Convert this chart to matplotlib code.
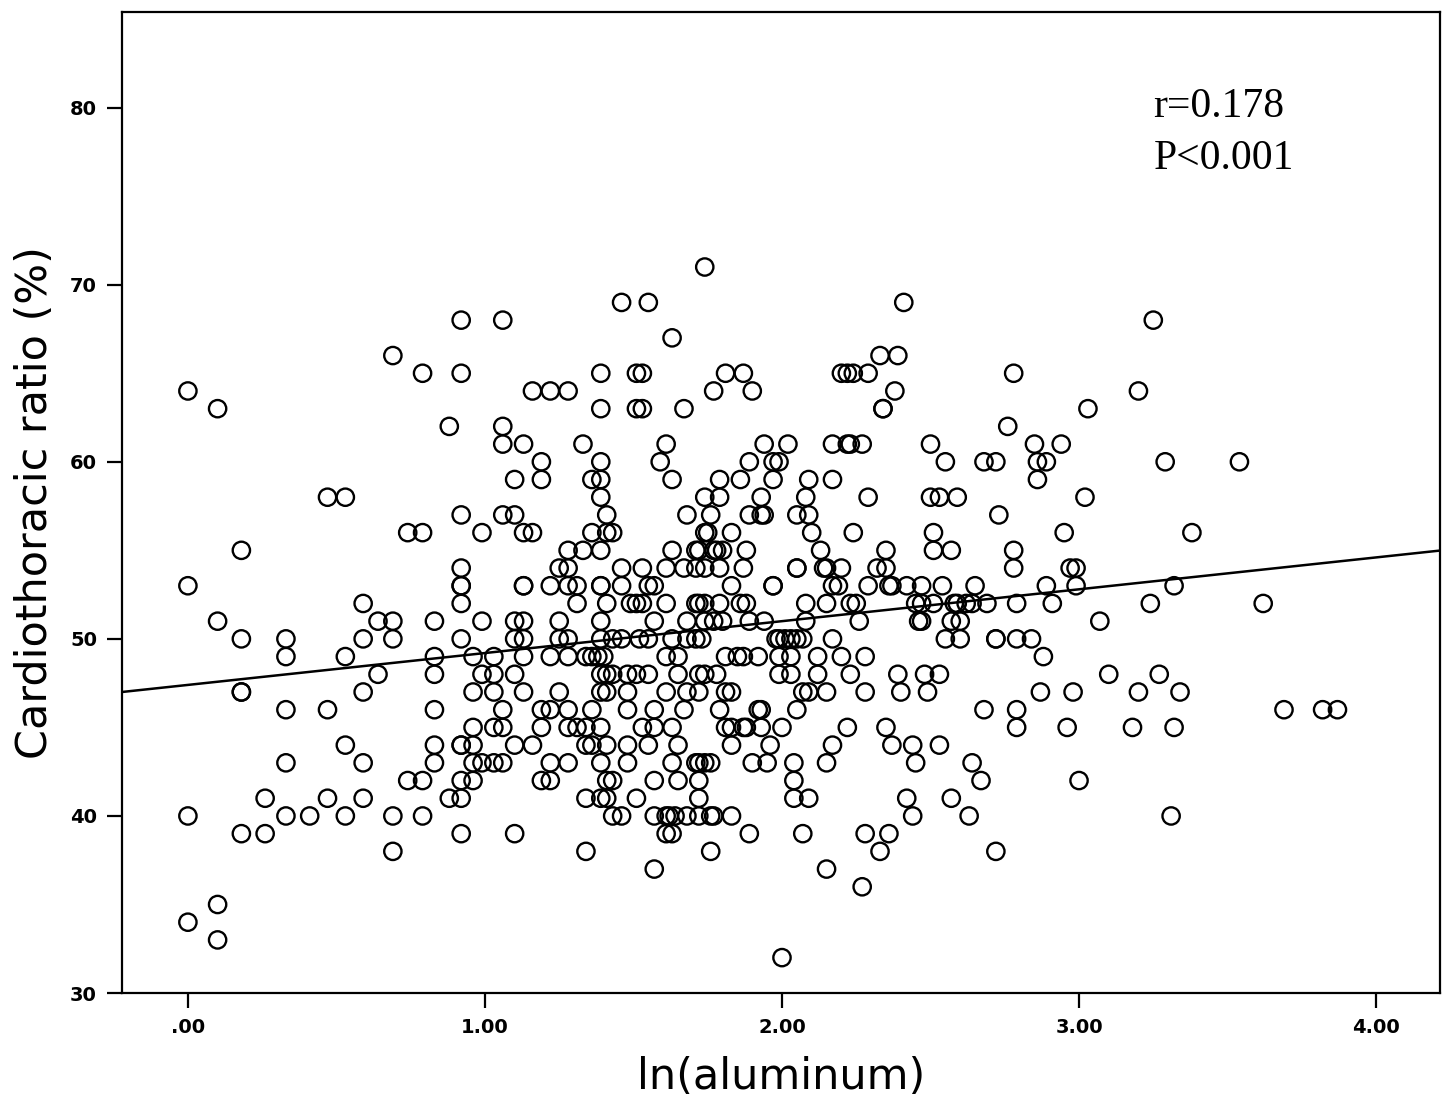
import numpy as np
import matplotlib
matplotlib.use('Agg')
import matplotlib.pyplot as plt

# cardiothoracic ratio levels (%) and the ln(aluminum) values read at each level
ctr_levels = [71, 69, 68, 67, 66, 65, 64, 63, 62, 61, 60, 59, 58, 57, 56, 55, 54, 53,
              52, 51, 50, 49, 48, 47, 46, 45, 44, 43, 42, 41, 40, 39, 38, 37, 36, 35,
              34, 33, 32]

ln_al_by_level = [
    [1.74],
    [1.46, 1.55, 2.41],
    [0.92, 1.06, 3.25],
    [1.63],
    [0.69, 2.33, 2.39],
    [0.79, 0.92, 1.39, 1.51, 1.53, 1.81, 1.87, 2.20, 2.22, 2.24, 2.29, 2.78],
    [0.00, 1.16, 1.22, 1.28, 1.77, 1.90, 2.38, 3.20],
    [0.10, 1.39, 1.51, 1.53, 1.67, 2.34, 2.34, 3.03],
    [0.88, 1.06, 2.76],
    [1.06, 1.13, 1.33, 1.61, 1.94, 2.02, 2.17, 2.22, 2.23, 2.27, 2.50, 2.85, 2.94],
    [1.19, 1.39, 1.59, 1.89, 1.97, 1.99, 2.55, 2.68, 2.72, 2.86, 2.89, 3.29, 3.54],
    [1.10, 1.19, 1.36, 1.39, 1.63, 1.79, 1.86, 1.97, 2.09, 2.17, 2.86],
    [0.47, 0.53, 1.39, 1.74, 1.79, 1.93, 2.08, 2.29, 2.50, 2.53, 2.59, 3.02],
    [0.92, 1.06, 1.10, 1.41, 1.68, 1.76, 1.89, 1.93, 1.94, 2.05, 2.09, 2.73],
    [0.74, 0.79, 0.99, 1.13, 1.16, 1.36, 1.41, 1.43, 1.74, 1.75, 1.83, 2.10, 2.24,
     2.51, 2.95, 3.38],
    [0.18, 1.28, 1.33, 1.39, 1.63, 1.71, 1.72, 1.77, 1.78, 1.80, 1.88, 2.13, 2.35,
     2.51, 2.57, 2.78],
    [0.92, 1.25, 1.28, 1.46, 1.53, 1.61, 1.67, 1.71, 1.74, 1.79, 1.87, 2.05, 2.05,
     2.14, 2.15, 2.20, 2.32, 2.35, 2.78, 2.97, 2.99],
    [0.00, 0.92, 0.92, 1.13, 1.13, 1.22, 1.28, 1.31, 1.39, 1.39, 1.46, 1.55, 1.57,
     1.83, 1.97, 1.97, 2.17, 2.19, 2.29, 2.36, 2.37, 2.42, 2.47, 2.54, 2.65, 2.89,
     2.99, 3.32],
    [0.59, 0.92, 1.31, 1.41, 1.49, 1.51, 1.53, 1.61, 1.71, 1.72, 1.74, 1.79, 1.86,
     1.88, 2.08, 2.15, 2.23, 2.25, 2.45, 2.47, 2.51, 2.58, 2.59, 2.62, 2.64, 2.69,
     2.79, 2.91, 3.24, 3.62],
    [0.10, 0.64, 0.69, 0.83, 0.99, 1.10, 1.13, 1.25, 1.39, 1.57, 1.68, 1.74, 1.77,
     1.80, 1.89, 1.94, 2.08, 2.26, 2.46, 2.47, 2.57, 2.60, 3.07],
    [0.18, 0.33, 0.59, 0.69, 0.92, 1.10, 1.13, 1.25, 1.28, 1.39, 1.43, 1.46, 1.52,
     1.55, 1.63, 1.68, 1.71, 1.73, 1.98, 1.99, 2.01, 2.03, 2.05, 2.07, 2.17, 2.55,
     2.60, 2.72, 2.72, 2.79, 2.84],
    [0.33, 0.53, 0.83, 0.96, 1.03, 1.13, 1.22, 1.28, 1.34, 1.36, 1.38, 1.40, 1.61,
     1.65, 1.81, 1.85, 1.87, 1.92, 1.99, 2.03, 2.12, 2.20, 2.28, 2.88],
    [0.64, 0.83, 0.99, 1.03, 1.10, 1.39, 1.41, 1.43, 1.48, 1.51, 1.55, 1.65, 1.72,
     1.74, 1.78, 1.99, 2.03, 2.12, 2.23, 2.39, 2.48, 2.53, 3.10, 3.27],
    [0.18, 0.18, 0.59, 0.96, 1.03, 1.13, 1.25, 1.39, 1.41, 1.48, 1.61, 1.68, 1.72,
     1.81, 1.83, 2.07, 2.09, 2.15, 2.28, 2.40, 2.49, 2.87, 2.98, 3.20, 3.34],
    [0.33, 0.47, 0.83, 1.06, 1.19, 1.22, 1.28, 1.36, 1.48, 1.57, 1.67, 1.79, 1.92,
     1.93, 2.05, 2.68, 2.79, 3.69, 3.82, 3.87],
    [0.96, 1.03, 1.06, 1.19, 1.28, 1.31, 1.34, 1.39, 1.53, 1.57, 1.63, 1.81, 1.83,
     1.87, 1.88, 1.93, 2.00, 2.22, 2.35, 2.79, 2.96, 3.18, 3.32],
    [0.53, 0.83, 0.92, 0.92, 0.96, 1.10, 1.16, 1.34, 1.36, 1.41, 1.48, 1.55, 1.65,
     1.83, 1.96, 2.17, 2.37, 2.44, 2.53],
    [0.33, 0.59, 0.83, 0.96, 0.99, 1.03, 1.06, 1.22, 1.28, 1.39, 1.48, 1.63, 1.71,
     1.72, 1.74, 1.76, 1.90, 1.95, 2.04, 2.15, 2.45, 2.64],
    [0.74, 0.79, 0.92, 0.96, 1.19, 1.22, 1.41, 1.43, 1.57, 1.65, 1.72, 2.04, 2.67, 3.00],
    [0.26, 0.47, 0.59, 0.88, 0.92, 1.34, 1.39, 1.41, 1.51, 1.72, 2.04, 2.09, 2.42, 2.57],
    [0.00, 0.33, 0.41, 0.53, 0.69, 0.79, 1.43, 1.46, 1.57, 1.61, 1.62, 1.64, 1.68,
     1.72, 1.76, 1.77, 1.83, 2.44, 2.63, 3.31],
    [0.18, 0.26, 0.92, 1.10, 1.61, 1.63, 1.89, 2.07, 2.28, 2.36],
    [0.69, 1.34, 1.76, 2.33, 2.72],
    [1.57, 2.15],
    [2.27],
    [0.10],
    [0.00],
    [0.10],
    [2.00],
]

# fit line
fit_intercept = 47.4
fit_slope = 1.80

x_ticks = [0, 1, 2, 3, 4]
x_tick_labels = ['.00', '1.00', '2.00', '3.00', '4.00']
y_ticks = [30, 40, 50, 60, 70, 80]

x = []
y = []
for level, xs in zip(ctr_levels, ln_al_by_level):
    x.extend(xs)
    y.extend([level] * len(xs))
x = np.array(x)
y = np.array(y)

fig = plt.figure(figsize=(14.45, 11.03), dpi=100)
ax = fig.add_axes([0.0844, 0.0997, 0.9121, 0.8894])

ax.scatter(x, y, s=155, facecolors='none', edgecolors='black', linewidths=1.7, zorder=3)

xlim = (-0.222, 4.215)
xl = np.array(xlim)
ax.plot(xl, fit_intercept + fit_slope * xl, color='black', linewidth=1.8, zorder=2)

ax.set_xlim(xlim)
ax.set_ylim(30, 85.4)
ax.set_xticks(x_ticks)
ax.set_xticklabels(x_tick_labels)
ax.set_yticks(y_ticks)

for spine in ax.spines.values():
    spine.set_linewidth(1.6)
ax.tick_params(direction='out', length=11, width=1.6, labelsize=14, pad=7)
for lab in ax.get_xticklabels() + ax.get_yticklabels():
    lab.set_fontweight('bold')
    lab.set_family('DejaVu Sans')

ax.set_xlabel('ln(aluminum)', fontsize=31, family='DejaVu Sans', labelpad=14)
ax.set_ylabel('Cardiothoracic ratio (%)', fontsize=31, family='DejaVu Sans', labelpad=10)

ax.text(3.25, 78.6, 'r=0.178\nP<0.001', fontsize=30, family='Liberation Serif',
        ha='left', va='center', linespacing=1.45)

plt.savefig('out.png', dpi=100)
